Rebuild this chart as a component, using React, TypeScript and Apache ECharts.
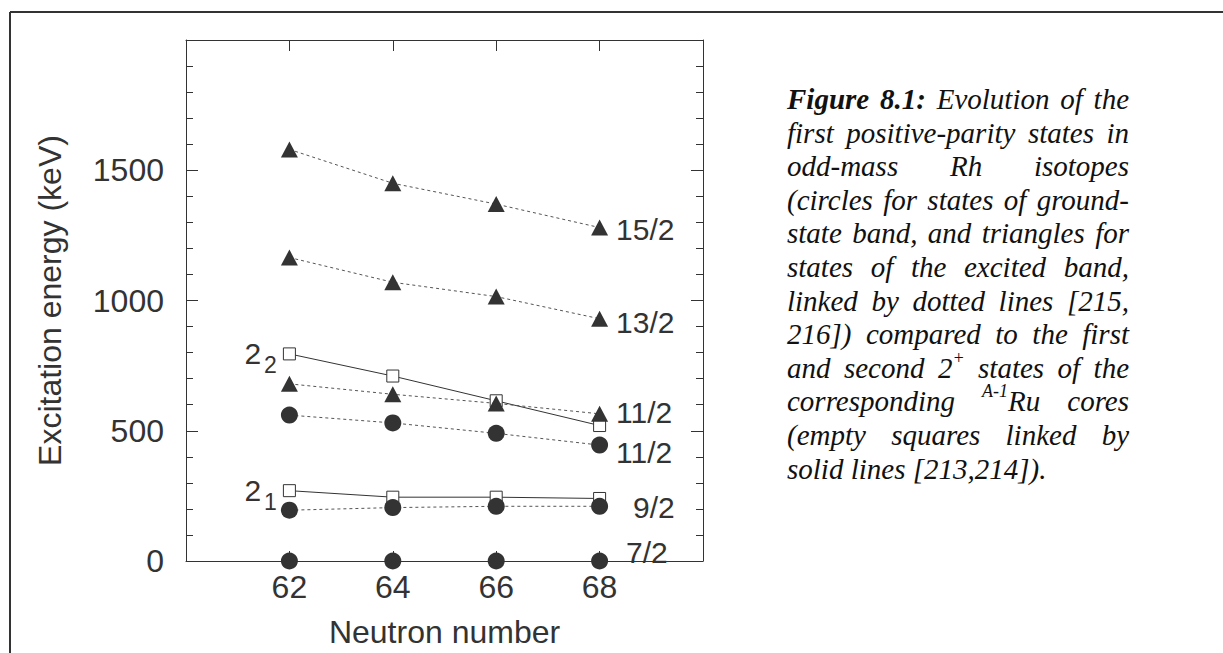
import React, { useEffect, useRef } from "react";
import * as echarts from "echarts";

// ---------- data ----------
const neutronNumbers = [62, 64, 66, 68];
const ru2plus2 = [795, 710, 615, 520]; // second 2+ of A-1 Ru core
const ru2plus1 = [270, 245, 245, 240]; // first 2+ of A-1 Ru core
const rh15_2 = [1580, 1450, 1370, 1280]; // excited band
const rh13_2 = [1165, 1070, 1015, 930]; // excited band
const rh11_2exc = [680, 640, 605, 565]; // excited band
const rh11_2gs = [560, 530, 490, 445]; // ground-state band
const rh9_2 = [195, 205, 210, 210]; // ground-state band
const rh7_2 = [0, 0, 0, 0]; // ground-state band
const hiddenXTicks = [60, 70];
const hiddenYTicks = [2000];

const SANS = '"Liberation Sans", Arial, Helvetica, sans-serif';
const SERIF = '"Liberation Serif", "Times New Roman", serif';
const INK = "#333";

type Seg = { t: string; sup?: boolean; bold?: boolean };
const w = (t: string, bold = false): Seg[] => [{ t, bold }];
const line = (s: string): Seg[][] => s.split(" ").filter((x) => x.length).map((x) => w(x));

const captionLines: Seg[][][] = [
  [w("Figure", true), w("8.1:", true), ...line("Evolution of the")],
  line("first positive-parity states in"),
  line("odd-mass Rh isotopes"),
  line("(circles for states of ground-"),
  line("state band, and triangles for"),
  line("states of the excited band,"),
  line("linked by dotted lines [215,"),
  line("216]) compared to the first"),
  [...line("and second"), [{ t: "2" }, { t: "+", sup: true }], ...line("states of the")],
  [w("corresponding"), [{ t: "A-1", sup: true }, { t: "Ru" }], w("cores")],
  line("(empty squares linked by"),
  line("solid lines [213,214])."),
];

function pts(ys: number[]) {
  return neutronNumbers.map((x, i) => [x, ys[i]]);
}

export default function App() {
  const ref = useRef<HTMLDivElement>(null);

  useEffect(() => {
    if (!ref.current) return;
    const chart = echarts.init(ref.current, undefined, { renderer: "svg" });

    // ---- caption layout (justified) ----
    const canvas = document.createElement("canvas");
    const ctx = canvas.getContext("2d")!;
    const capSize = 29;
    const supSize = 18;
    const capLeft = 787;
    const capRight = 1129;
    const capTop = 99;
    const capStep = 33.6;
    const fontOf = (s: Seg) =>
      `italic ${s.bold ? "bold" : "normal"} ${s.sup ? supSize : capSize}px "Liberation Serif"`;
    const measure = (s: Seg) => {
      ctx.font = fontOf(s);
      return ctx.measureText(s.t).width;
    };
    ctx.font = fontOf({ t: " " });
    const spaceW = ctx.measureText(" ").width;
    const captionEls: any[] = [];
    captionLines.forEach((words, li) => {
      const widths = words.map((segs) => segs.reduce((a, s) => a + measure(s), 0));
      const total = widths.reduce((a, b) => a + b, 0);
      const last = li === captionLines.length - 1;
      const gap = last || words.length < 2 ? spaceW : (capRight - capLeft - total) / (words.length - 1);
      let x = capLeft;
      const y = capTop + li * capStep;
      words.forEach((segs, wi) => {
        let sx = x;
        segs.forEach((s) => {
          captionEls.push({
            type: "text",
            x: sx,
            y: s.sup ? y - 10 : y,
            silent: true,
            style: {
              text: s.t,
              fill: "#111",
              fontFamily: SERIF,
              fontStyle: "italic",
              fontWeight: s.bold ? "bold" : "normal",
              fontSize: s.sup ? supSize : capSize,
              align: "left",
              verticalAlign: "middle",
            },
          });
          sx += measure(s);
        });
        x += widths[wi] + gap;
      });
    });

    const textStyle = { fontFamily: SANS, color: INK };

    const rhSeries = (ys: number[], symbol: string, size: any, label: string, offset: number[], hideLine = false) => ({
      type: "line",
      data: pts(ys),
      symbol,
      symbolSize: size,
      itemStyle: { color: INK },
      lineStyle: { color: "#555", width: 1, type: [3, 3], opacity: hideLine ? 0 : 1 },
      label: {
        show: true,
        position: "right",
        distance: 8,
        offset,
        fontSize: 30,
        ...textStyle,
        formatter: (p: any) => (p.dataIndex === neutronNumbers.length - 1 ? label : ""),
      },
      z: 4,
    });

    const ruSeries = (ys: number[], sub: string) => ({
      type: "line",
      data: pts(ys),
      symbol: "rect",
      symbolSize: 12,
      itemStyle: { color: "#fff", borderColor: INK, borderWidth: 1 },
      lineStyle: { color: INK, width: 1, type: "solid" },
      label: {
        show: true,
        position: "left",
        distance: 6,
        formatter: (p: any) => (p.dataIndex === 0 ? `{a|2}{b|${sub}}` : ""),
        rich: {
          a: { fontSize: 30, lineHeight: 30, ...textStyle },
          b: { fontSize: 23, lineHeight: 23, padding: [22, 0, 0, 3], ...textStyle },
        },
      },
      z: 3,
    });

    const axisLine = { show: true, onZero: false, lineStyle: { color: INK, width: 1 } };

    chart.setOption({
      animation: false,
      grid: { left: 186, right: 520, top: 40, bottom: 92, containLabel: false },
      xAxis: [
        {
          type: "value",
          min: 60,
          max: 70,
          interval: 2,
          position: "bottom",
          axisLine,
          axisTick: { show: true, inside: true, length: 10, lineStyle: { color: INK } },
          axisLabel: {
            margin: 10,
            fontSize: 32,
            ...textStyle,
            formatter: (v: number) => (hiddenXTicks.includes(v) ? "" : String(v)),
          },
          splitLine: { show: false },
          name: "Neutron number",
          nameLocation: "middle",
          nameGap: 55,
          nameTextStyle: { fontSize: 32, ...textStyle },
        },
        {
          type: "value",
          min: 60,
          max: 70,
          interval: 2,
          position: "top",
          axisLine,
          axisTick: { show: true, inside: true, length: 11, lineStyle: { color: INK } },
          axisLabel: { show: false },
          splitLine: { show: false },
        },
      ],
      yAxis: [
        {
          type: "value",
          min: 0,
          max: 2000,
          interval: 500,
          position: "left",
          axisLine,
          axisTick: { show: true, inside: true, length: 12, lineStyle: { color: INK } },
          minorTick: { show: true, splitNumber: 5, length: 7, lineStyle: { color: INK } },
          axisLabel: {
            margin: 22,
            fontSize: 32,
            ...textStyle,
            formatter: (v: number) => (hiddenYTicks.includes(v) ? "" : String(v)),
          },
          splitLine: { show: false },
          minorSplitLine: { show: false },
          name: "Excitation energy (keV)",
          nameLocation: "middle",
          nameGap: 120,
          nameTextStyle: { fontSize: 32, ...textStyle },
        },
        {
          type: "value",
          min: 0,
          max: 2000,
          interval: 500,
          position: "right",
          axisLine,
          axisTick: { show: true, inside: true, length: 12, lineStyle: { color: INK } },
          minorTick: { show: true, splitNumber: 5, length: 7, lineStyle: { color: INK } },
          axisLabel: { show: false },
          splitLine: { show: false },
          minorSplitLine: { show: false },
        },
      ],
      series: [
        ruSeries(ru2plus2, "2"),
        ruSeries(ru2plus1, "1"),
        rhSeries(rh15_2, "triangle", [17, 16], "15/2", [0, 2]),
        rhSeries(rh13_2, "triangle", [17, 16], "13/2", [0, 4]),
        rhSeries(rh11_2exc, "triangle", [17, 16], "11/2", [0, -1]),
        rhSeries(rh11_2gs, "circle", 17, "11/2", [0, 7]),
        rhSeries(rh9_2, "circle", 17, "9/2", [17, 1]),
        rhSeries(rh7_2, "circle", 17, "7/2", [10, -9], true),
      ],
      graphic: [
        {
          type: "line",
          silent: true,
          shape: { x1: 10, y1: 12, x2: 10, y2: 660 },
          style: { stroke: "#333", lineWidth: 2 },
        },
        {
          type: "line",
          silent: true,
          shape: { x1: 10, y1: 12, x2: 1230, y2: 12 },
          style: { stroke: "#333", lineWidth: 2 },
        },
        ...captionEls,
      ],
    });

    return () => chart.dispose();
  }, []);

  return (
    <div
      ref={ref}
      style={{ position: "fixed", left: 0, top: 0, width: 1223, height: 653, background: "#fff" }}
    />
  );
}
